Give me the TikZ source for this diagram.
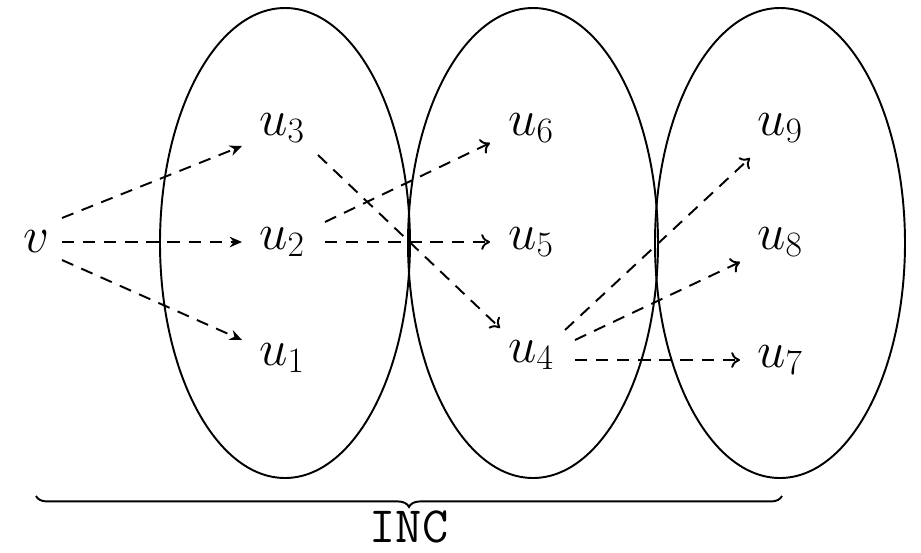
\RequirePackage{fix-cm}
\documentclass[tikz,border=0pt]{standalone}
\usetikzlibrary{arrows.meta,decorations.pathreplacing}
\begin{document}
\begin{tikzpicture}[x=0.02cm,y=-0.02cm,
  lbl/.style={font=\fontsize{29}{34}\selectfont, inner sep=0pt},
  set/.style={draw, line width=1.1pt},
  arr/.style={dashed, line width=1.1pt, dash pattern=on 7pt off 5pt, -{Stealth[length=7pt,width=6pt]}},
  arro/.style={dashed, line width=1.1pt, dash pattern=on 7pt off 5pt, -{To[length=5pt,width=9pt]}}]
\useasboundingbox (0,0) rectangle (921,552);
\draw[set] (285,243) ellipse [x radius=125, y radius=235];
\draw[set] (533,243) ellipse [x radius=125, y radius=235];
\draw[set] (780,243) ellipse [x radius=125, y radius=235];
\node[lbl] (v) at (36,242) {$v$};
\node[lbl] (u3) at (282,128) {$u_3$};
\node[lbl] (u2) at (282,242) {$u_2$};
\node[lbl] (u1) at (282,358) {$u_1$};
\node[lbl] (u6) at (531,128) {$u_6$};
\node[lbl] (u5) at (531,242) {$u_5$};
\node[lbl] (u4) at (531,355) {$u_4$};
\node[lbl] (u9) at (780,128) {$u_9$};
\node[lbl] (u8) at (780,242) {$u_8$};
\node[lbl] (u7) at (780,360) {$u_7$};
\draw[arr] ([shift={(26,-24)}]v.center) -- ([shift={(-40,18)}]u3.center);
\draw[arr] ([shift={(26,0)}]v.center) -- ([shift={(-40,0)}]u2.center);
\draw[arr] ([shift={(26,18)}]v.center) -- ([shift={(-40,-18)}]u1.center);
\draw[arro] ([shift={(36,27)}]u3.center) -- ([shift={(-31,-27)}]u4.center);
\draw[arro] ([shift={(43,-20)}]u2.center) -- ([shift={(-41,15)}]u6.center);
\draw[arro] ([shift={(43,0)}]u2.center) -- ([shift={(-41,0)}]u5.center);
\draw[arro] ([shift={(34,-25)}]u4.center) -- ([shift={(-30,30)}]u9.center);
\draw[arro] ([shift={(44,-15)}]u4.center) -- ([shift={(-40,20)}]u8.center);
\draw[arro] ([shift={(44,5)}]u4.center) -- ([shift={(-40,0)}]u7.center);
\coordinate (bl) at (36,496);
\coordinate (br) at (782,496);
\draw[line width=1.1pt, decorate, decoration={brace, mirror, amplitude=6.2pt}] (bl) -- (br);
\node[lbl, font=\fontsize{29}{34}\selectfont\ttfamily] (inc) at (409,527) {INC};
\end{tikzpicture}
\end{document}
